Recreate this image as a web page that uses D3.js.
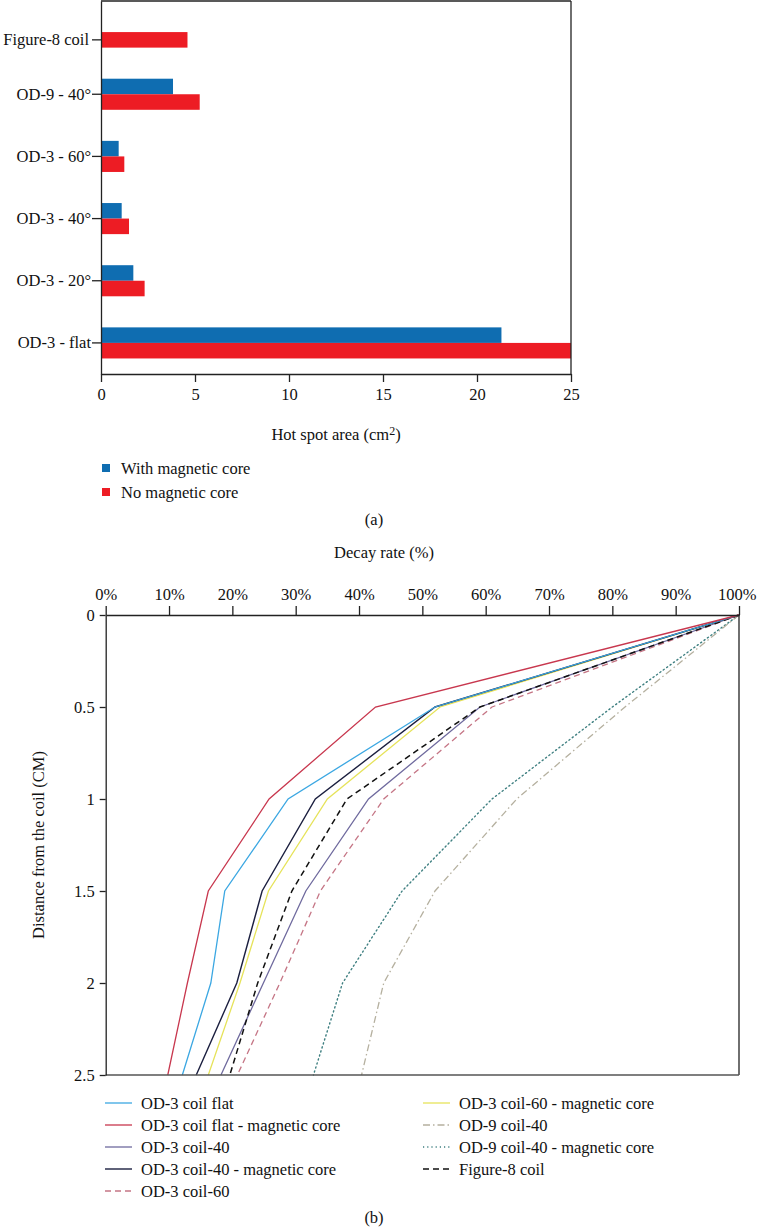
<!DOCTYPE html>
<html><head><meta charset="utf-8">
<script src="https://cdn.jsdelivr.net/npm/d3@7/dist/d3.min.js"></script>
<style>
body{margin:0;background:#fff;}
svg{display:block;font-family:"Liberation Serif","DejaVu Serif",serif;}
</style></head>
<body><svg id="c" width="757" height="1228"></svg>
<script>
// ---- Panel (a) data ----
const barCategories = ["Figure-8 coil","OD-9 - 40°","OD-3 - 60°","OD-3 - 40°","OD-3 - 20°","OD-3 - flat"];
const withCore = [null, 3.83, 0.94, 1.10, 1.72, 21.3];
const noCore   = [4.6, 5.25, 1.24, 1.49, 2.32, 25];
const barSeries = ["With magnetic core","No magnetic core"];
const barTicks = [0,5,10,15,20,25];

// ---- Panel (b) data ----
const distances = [0, 0.5, 1, 1.5, 2, 2.5];
const distTicks = [0, 0.5, 1, 1.5, 2, 2.5];
const rateTicks = [0,10,20,30,40,50,60,70,80,90,100];
const od3Flat       = [100, 52.0, 28.8, 18.8, 16.6, 12.1];
const od3FlatCore   = [100, 42.6, 25.8, 16.2, 12.9, 9.8];
const od3Coil40     = [100, 59.1, 41.5, 31.6, 24.9, 18.2];
const od3Coil40Core = [100, 52.0, 33.1, 24.7, 20.7, 14.3];
const od3Coil60     = [100, 61.0, 43.9, 33.9, 27.5, 20.8];
const od3Coil60Core = [100, 52.8, 35.0, 25.7, 21.2, 16.2];
const od9Coil40     = [100, 82.0, 64.9, 52.0, 43.9, 40.4];
const od9Coil40Core = [100, 80.0, 61.0, 46.8, 37.4, 32.8];
const figure8       = [100, 59.1, 38.1, 29.4, 24.0, 19.6];

const FS = 16.5;
const svg = d3.select("#c");

// ================= Panel (a) =================
const ax0 = 101, ax1 = 571, ay0 = 1, ay1 = 374;
const x = d3.scaleLinear().domain([0,25]).range([ax0, ax1]);
const y = d3.scaleBand().domain(barCategories).range([ay0, ay1]).paddingInner(0.5).paddingOuter(0.25);
const ySub = d3.scaleBand().domain(barSeries).range([0, y.bandwidth()]);
const barColor = d3.scaleOrdinal().domain(barSeries).range(["#0f6db1","#ed1c24"]);

const gA = svg.append("g");
const rows = barCategories.map((c,i)=>({c, vals:[{s:barSeries[0], v:withCore[i]},{s:barSeries[1], v:noCore[i]}]}));
gA.selectAll("g.row").data(rows).join("g").attr("class","row")
  .attr("transform", d=>`translate(0,${y(d.c)})`)
  .selectAll("rect").data(d=>d.vals.filter(v=>v.v!=null)).join("rect")
  .attr("x", x(0)).attr("y", d=>ySub(d.s))
  .attr("width", d=>x(d.v)-x(0)).attr("height", ySub.bandwidth())
  .attr("fill", d=>barColor(d.s));

// frame (top & right)
gA.append("line").attr("x1",ax0).attr("x2",ax1).attr("y1",ay0).attr("y2",ay0).attr("stroke","#222").attr("stroke-width",1.3);
gA.append("line").attr("x1",ax1).attr("x2",ax1).attr("y1",ay0).attr("y2",ay1).attr("stroke","#222").attr("stroke-width",1.3);

const xAxA = gA.append("g").attr("transform",`translate(0,${ay1})`)
  .call(d3.axisBottom(x).tickValues(barTicks).tickSize(8).tickPadding(6).tickSizeOuter(0));
const yAxA = gA.append("g").attr("transform",`translate(${ax0},0)`)
  .call(d3.axisLeft(y).tickSize(9).tickPadding(1).tickSizeOuter(0));
[xAxA,yAxA].forEach(g=>{
  g.selectAll("path,line").attr("stroke","#222").attr("stroke-width",1.3);
  g.selectAll("text").attr("font-family","Liberation Serif, serif").attr("font-size",FS).attr("fill","#111");
});
// Figure-8 has only one bar: its tick sits on that bar
yAxA.selectAll(".tick").filter(d=>d==="Figure-8 coil")
  .attr("transform", `translate(0,${y("Figure-8 coil")+ySub(barSeries[1])+ySub.bandwidth()/2})`)
  .select("text").attr("dx",-2);

gA.append("text").attr("x",336).attr("y",440).attr("text-anchor","middle").attr("font-size",FS).attr("fill","#111")
  .html('Hot spot area (cm<tspan dy="-5" font-size="12">2</tspan><tspan dy="5">)</tspan>');

const legA = gA.selectAll("g.lega").data(barSeries).join("g").attr("class","lega")
  .attr("transform",(d,i)=>`translate(102,${468+i*24})`);
legA.append("rect").attr("x",0).attr("y",-4).attr("width",8).attr("height",8).attr("fill",d=>barColor(d));
legA.append("text").attr("x",19).attr("y",5.5).attr("font-size",FS).attr("fill","#111").text(d=>d);

svg.append("text").attr("x",374).attr("y",525).attr("text-anchor","middle").attr("font-size",FS).attr("fill","#111").text("(a)");

// ================= Panel (b) =================
const bx0 = 105.7, bx1 = 739, by0 = 615, by1 = 1075;
const xr = d3.scaleLinear().domain([0,100]).range([bx0,bx1]);
const yd = d3.scaleLinear().domain([0,2.5]).range([by0,by1]);
const gB = svg.append("g");

const series = [
  {name:"OD-3 coil flat", v:od3Flat, color:"#3ba7e2", dash:null, w:1.3},
  {name:"OD-3 coil flat - magnetic core", v:od3FlatCore, color:"#c8374e", dash:null, w:1.3},
  {name:"OD-3 coil-40", v:od3Coil40, color:"#6f6a9e", dash:null, w:1.3},
  {name:"OD-3 coil-40 - magnetic core", v:od3Coil40Core, color:"#1b1f3f", dash:null, w:1.4},
  {name:"OD-3 coil-60", v:od3Coil60, color:"#c57585", dash:"6,4", w:1.3},
  {name:"OD-3 coil-60 - magnetic core", v:od3Coil60Core, color:"#e6e35a", dash:null, w:1.3},
  {name:"OD-9 coil-40", v:od9Coil40, color:"#b5b09f", dash:"7,3,1.5,3", w:1.3},
  {name:"OD-9 coil-40 - magnetic core", v:od9Coil40Core, color:"#3e7f80", dash:"1.2,3", w:1.4},
  {name:"Figure-8 coil", v:figure8, color:"#111111", dash:"6,4", w:1.5}
];
const line = d3.line().x(d=>xr(d.r)).y(d=>yd(d.d));
const drawOrder = [7,6,4,2,8,5,3,0,1];
drawOrder.forEach(i=>{
  const s = series[i];
  gB.append("path").datum(distances.map((d,k)=>({d, r:s.v[k]})))
    .attr("d", line).attr("fill","none").attr("stroke", s.color).attr("stroke-width", s.w)
    .attr("stroke-dasharray", s.dash).attr("stroke-linecap", s.dash==="1.2,3"?"round":"butt");
});

// frame right & bottom
gB.append("line").attr("x1",bx1).attr("x2",bx1).attr("y1",by0).attr("y2",by1).attr("stroke","#222").attr("stroke-width",1.3);
gB.append("line").attr("x1",bx0).attr("x2",bx1).attr("y1",by1).attr("y2",by1).attr("stroke","#555").attr("stroke-width",1.3);

const xAxB = gB.append("g").attr("transform",`translate(0,${by0})`)
  .call(d3.axisTop(xr).tickValues(rateTicks).tickFormat(d=>d+"%").tickSize(9).tickPadding(6).tickSizeOuter(0));
const yAxB = gB.append("g").attr("transform",`translate(${bx0},0)`)
  .call(d3.axisLeft(yd).tickValues(distTicks).tickFormat(d3.format("")).tickSize(6).tickPadding(5).tickSizeOuter(0));
[xAxB,yAxB].forEach(g=>{
  g.selectAll("path,line").attr("stroke","#222").attr("stroke-width",1.3);
  g.selectAll("text").attr("font-family","Liberation Serif, serif").attr("font-size",FS).attr("fill","#111");
});
// keep the last tick label inside the picture
xAxB.selectAll(".tick").filter(d=>d===100).select("text").attr("text-anchor","end").attr("dx",17);

svg.append("text").attr("x",384).attr("y",558).attr("text-anchor","middle").attr("font-size",FS).attr("fill","#111").text("Decay rate (%)");
svg.append("text").attr("transform",`translate(44,${(by0+by1)/2}) rotate(-90)`).attr("text-anchor","middle")
  .attr("font-size",FS).attr("fill","#111").text("Distance from the coil (CM)");

// legend (b)
const legB = gB.selectAll("g.legb").data(series).join("g").attr("class","legb")
  .attr("transform",(d,i)=> i<5 ? `translate(105,${1103+i*22})` : `translate(423,${1103+(i-5)*22})`);
legB.append("line").attr("x1",0).attr("x2",27).attr("y1",0).attr("y2",0)
  .attr("stroke",d=>d.color).attr("stroke-width",d=>d.w).attr("stroke-dasharray",d=>d.dash);
legB.append("text").attr("x",36).attr("y",5.5).attr("font-size",FS).attr("fill","#111").text(d=>d.name);

svg.append("text").attr("x",374).attr("y",1223).attr("text-anchor","middle").attr("font-size",FS).attr("fill","#111").text("(b)");
</script></body></html>
